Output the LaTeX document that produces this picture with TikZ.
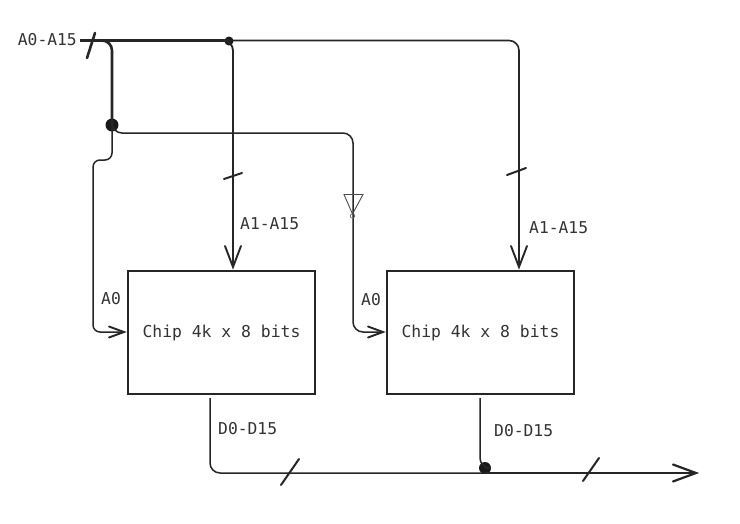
\documentclass[tikz,border=0pt]{standalone}
\usepackage{fontspec}
\setmonofont{DejaVu Sans Mono}
\usetikzlibrary{arrows.meta}
\pgfdeclarearrow{
  name=VHead,
  parameters={\the\pgfarrowlength,\the\pgfarrowwidth,\the\pgfarrowlinewidth},
  setup code={%
    \pgfarrowssettipend{0pt}%
    \pgfarrowssetlineend{-0.5\pgfarrowlinewidth}%
    \pgfarrowssavethe\pgfarrowlength
    \pgfarrowssavethe\pgfarrowwidth
    \pgfarrowssavethe\pgfarrowlinewidth},
  drawing code={%
    \pgfsetdash{}{+0pt}%
    \pgfsetlinewidth{\pgfarrowlinewidth}%
    \pgfsetroundcap\pgfsetmiterjoin
    \pgfpathmoveto{\pgfqpoint{-\pgfarrowlength}{.5\pgfarrowwidth}}%
    \pgfpathlineto{\pgfqpoint{-1pt}{0pt}}%
    \pgfpathlineto{\pgfqpoint{-\pgfarrowlength}{-.5\pgfarrowwidth}}%
    \pgfusepathqstroke},
  defaults={length=22pt,width=16pt}
}
\tikzset{
  lbl/.style={font=\ttfamily\fontsize{16.3}{18}\selectfont, text=black!80, inner sep=0pt},
  chip/.style={draw=black!85, line width=1.5pt, minimum width=187pt, minimum height=123pt, inner sep=0pt, font=\ttfamily\fontsize{16.4}{18}\selectfont, text=black!80},
  wire/.style={draw=black!85, line width=1.5pt, rounded corners=10pt},
  heavy/.style={draw=black!85, line width=2.2pt, rounded corners=10pt},
  arr/.style={-{VHead[length=22pt,width=16pt,line width=1.9pt]}},
  smallarr/.style={-{VHead[length=16pt,width=11pt,line width=1.9pt]}},
  bigarr/.style={-{VHead[length=24pt,width=17pt,line width=2.2pt]}},
  tickmark/.style={draw=black!85, line width=2pt, line cap=round},
  dot/.style={circle, fill=black!90, inner sep=0pt},
  invert/.style={draw=black!70, line width=0.9pt}
}
\begin{document}
\begin{tikzpicture}[x=1pt,y=-1pt]
\useasboundingbox (0,0) rectangle (740,523);
\fill[white] (0,0) rectangle (740,523);
\node[chip] (c1) at (221.5,332.5) {Chip 4k x 8 bits};
\node[chip] (c2) at (480.5,332.5) {Chip 4k x 8 bits};
\node[lbl,anchor=east] (bus) at (77,40) {A0-A15};
\coordinate (start) at (80,40.5);
\node[dot,minimum size=9pt] (j1) at (229,41) {};
\node[dot,minimum size=13pt] (j2) at (112,125) {};
\node[dot,minimum size=12pt] (j3) at (485,468) {};
\coordinate (c1top) at (233,268);
\coordinate (c2top) at (519,268);
\coordinate (c1left) at (125,332);
\coordinate (c2left) at (384,332);
\coordinate (c1bot) at (210,398);
\coordinate (c2bot) at (480,398);
\coordinate (out) at (697,473);
% address bus
\draw[heavy] (start) -- (229,40.5);
\draw[wire,arr,line width=1.8pt] (229,40.5) -- (233,40.5) -- (c1top);
\draw[wire,arr,line width=1.6pt] (229,40.5) -- (519,40.5) -- (c2top);
\draw[heavy,line width=2.6pt] (100,40.5) -- (112,40.5) -- (j2.center);
\draw[wire,smallarr] (j2.center) -- (112,133) -- (353,133) -- (353,332) -- (c2left);
\draw[wire,smallarr,rounded corners=7pt] (j2.center) -- (112,160) -- (93,160) -- (93,332) -- (c1left);
% data bus
\draw[wire] (c1bot) -- (210,473) -- (485,473);
\draw[wire] (c2bot) -- (480,468) -- (j3.center);
\draw[heavy,bigarr] (j3.center |- out) -- (out);
% bus ticks
\draw[tickmark,line width=2.6pt] (95,33) -- (87,58);
\draw[tickmark] (224,179) -- (242,173);
\draw[tickmark] (507,175) -- (526,168);
\draw[tickmark] (299,459) -- (281,485);
\draw[tickmark] (599,458) -- (583,481);
% inverter
\node[circle,draw=black!55,line width=0.8pt,minimum size=4.5pt,inner sep=0pt] (inv) at (352.5,216) {};
\draw[invert] (344,194.5) -- (363,194.5) -- (352.5,214) -- cycle;
% labels
\node[lbl,anchor=west] (l1) at (240,224) {A1-A15};
\node[lbl,anchor=west] (l2) at (529,228) {A1-A15};
\node[lbl,anchor=west] (l3) at (101,299) {A0};
\node[lbl,anchor=west] (l4) at (361,300) {A0};
\node[lbl,anchor=west] (l5) at (218,429) {D0-D15};
\node[lbl,anchor=west] (l6) at (494,431) {D0-D15};
\end{tikzpicture}
\end{document}
